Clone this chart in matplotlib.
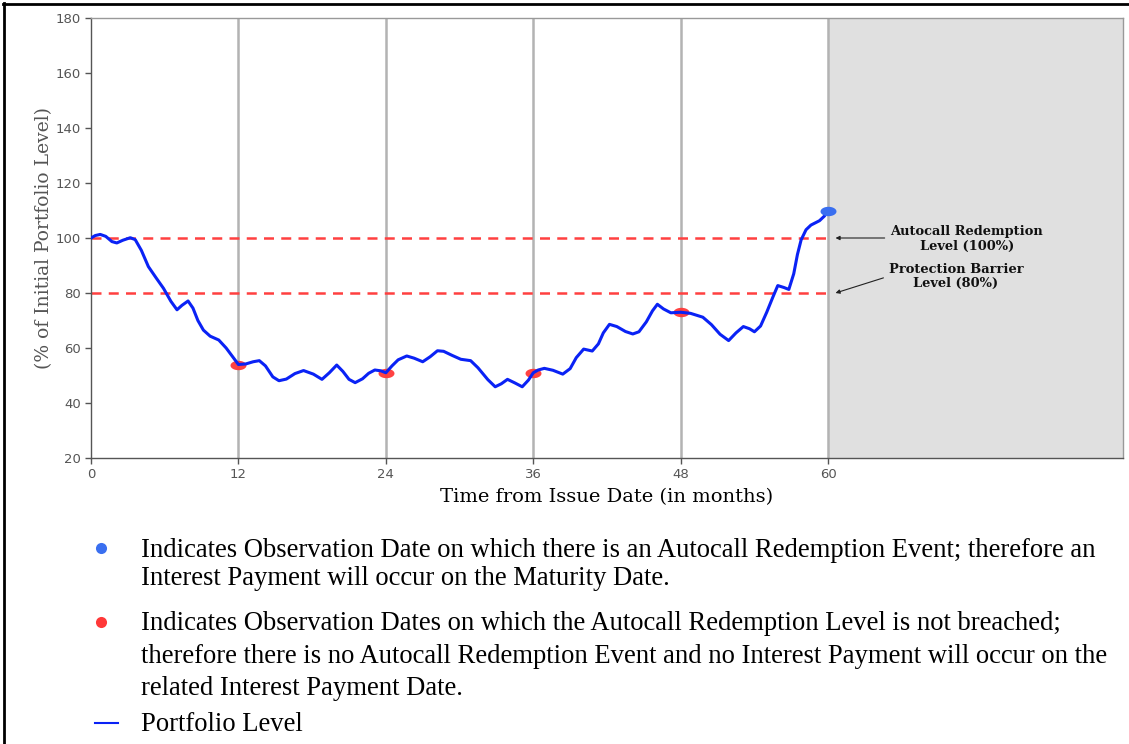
import matplotlib
matplotlib.use("Agg")
import matplotlib.pyplot as plt
import numpy as np
from matplotlib.path import Path
from matplotlib.lines import Line2D

# ---------------- data ----------------
months = [0, 0.35, 0.75, 1.2, 1.7, 2.1, 2.6, 3.2, 3.6, 4.1, 4.67, 5.3, 5.9, 6.5, 7.0, 7.4,
          7.9, 8.3, 8.7, 9.15, 9.7, 10.4, 11.0, 11.5, 12.0, 12.6, 13.2, 13.7, 14.2, 14.8,
          15.3, 15.9, 16.6, 17.3, 18.1, 18.8, 19.4, 20.0, 20.5, 21.0, 21.5, 22.1, 22.6,
          23.1, 23.6, 24.0, 24.5, 25.0, 25.7, 26.3, 27.0, 27.6, 28.2, 28.7, 29.4, 30.1,
          30.9, 31.5, 32.3, 32.9, 33.4, 33.9, 34.5, 35.1, 35.6, 36.0, 36.4, 36.9, 37.6,
          38.4, 39.0, 39.5, 40.1, 40.8, 41.3, 41.7, 42.2, 42.8, 43.5, 44.1, 44.6, 45.2,
          45.7, 46.1, 46.6, 47.2, 48.0, 48.8, 49.8, 50.5, 51.2, 51.9, 52.5, 53.1, 53.6,
          54.0, 54.5, 55.0, 55.5, 55.9, 56.4, 56.8, 57.2, 57.5, 57.8, 58.2, 58.6, 59.3,
          59.7, 60.0]
portfolio = [100, 100.9, 101.3, 100.6, 98.7, 98.2, 99.2, 100.1, 99.4, 95.5, 89.6, 85.5, 81.7,
             77, 73.9, 75.5, 77.1, 74.5, 70, 66.5, 64.3, 62.9, 60, 57, 54, 54.2, 55, 55.4,
             53.5, 49.5, 48.1, 48.7, 50.7, 51.8, 50.5, 48.6, 51, 53.8, 51.5, 48.6, 47.4,
             48.8, 50.8, 52, 51.7, 51, 53.5, 55.7, 57.1, 56.3, 55, 56.8, 59, 58.8, 57.3,
             55.9, 55.4, 52.8, 48.5, 45.9, 47, 48.6, 47.3, 45.9, 48.3, 51, 52, 52.6, 51.9,
             50.5, 52.5, 56.5, 59.6, 58.9, 61.5, 65.5, 68.6, 67.8, 66, 65.1, 65.9, 69.5,
             73.5, 75.9, 74.2, 72.8, 73, 72.6, 71.2, 68.5, 65, 62.7, 65.5, 67.8, 67, 65.9,
             68, 73, 78.5, 82.7, 82, 81.3, 87, 94, 99.3, 103, 104.7, 106.3, 108, 110]

obs_months = [12, 24, 36, 48]
obs_values = [54, 51, 51, 73]
autocall_month = [60]
autocall_value = [110]

autocall_level = 100
barrier_level = 80
maturity = 60
x_max = 84
x_ticks = [0, 12, 24, 36, 48, 60]
y_ticks = [20, 40, 60, 80, 100, 120, 140, 160, 180]

legend_lines = [
    "Indicates Observation Date on which there is an Autocall Redemption Event; therefore an",
    "Interest Payment will occur on the Maturity Date.",
    "Indicates Observation Dates on which the Autocall Redemption Level is not breached;",
    "therefore there is no Autocall Redemption Event and no Interest Payment will occur on the",
    "related Interest Payment Date.",
    "Portfolio Level",
]

# ---------------- figure ----------------
W, H = 1129, 744
fig = plt.figure(figsize=(W / 100, H / 100), dpi=100)
ax = fig.add_axes([91 / W, 1 - 458 / H, (1123 - 91) / W, (458 - 18) / H])

ax.set_xlim(0, x_max)
ax.set_ylim(20, 180)

# shaded post-maturity region
ax.axvspan(maturity, x_max, color="#e0e0e0", zorder=0)

# observation verticals
for m in x_ticks[1:]:
    ax.axvline(m, color="#b3b3b3", lw=1.8, zorder=1)

# level lines
for lvl in (autocall_level, barrier_level):
    ax.plot([0, maturity], [lvl, lvl], color="#ff4040", lw=1.8, dashes=(4, 2.9), zorder=2)

# ellipse marker
t = np.linspace(0, 2 * np.pi, 60)
ell = Path(np.column_stack([1.7 * np.cos(t), np.sin(t)]), closed=True)

ax.plot(obs_months, obs_values, ls="none", marker=ell, ms=11.5, color="#ff3838",
        mec="none", alpha=0.95, zorder=3)
ax.plot(months, portfolio, color="#0a22f5", lw=2.2, zorder=4,
        solid_capstyle="round", solid_joinstyle="round")
ax.plot(autocall_month, autocall_value, ls="none", marker=ell, ms=11.5, color="#3a6ff0",
        mec="none", zorder=5)

ax.set_xticks(x_ticks)
ax.set_yticks(y_ticks)
ax.tick_params(axis="both", colors="#555555", labelsize=9.5, length=4, width=1,
               labelcolor="#555555", pad=3)
for s in ("left", "bottom"):
    ax.spines[s].set_color("#555555")
for s in ("top", "right"):
    ax.spines[s].set_color("#999999")
for s in ax.spines.values():
    s.set_linewidth(1)

ax.set_ylabel("(% of Initial Portfolio Level)", family="DejaVu Serif", fontsize=13.5,
              color="#555555", labelpad=2)
ax.set_xlabel("Time from Issue Date (in months)", family="DejaVu Serif", fontsize=14,
              color="black", labelpad=5)

# annotations
ann_kw = dict(ha="center", va="center", family="DejaVu Serif", fontweight="bold",
              fontsize=9.4, linespacing=1.15, color="#111111")
ax.text(71.3, 99.6, "Autocall Redemption\nLevel (100%)", **ann_kw)
ax.text(70.4, 86.0, "Protection Barrier\nLevel (80%)", **ann_kw)
arr = dict(arrowstyle="-|>", color="#222222", lw=0.8, mutation_scale=6, shrinkA=0, shrinkB=0)
ax.annotate("", xy=(60.6, autocall_level), xytext=(64.6, autocall_level), arrowprops=arr)
ax.annotate("", xy=(60.6, barrier_level), xytext=(64.5, 85.5), arrowprops=arr)

# legend below
def fy(py):
    return 1 - py / H

baselines = [557, 585, 630, 663, 695, 731]
for txt, b in zip(legend_lines, baselines):
    fig.text(141 / W, fy(b), txt, family="Liberation Serif", fontsize=19.2,
             va="baseline", ha="left")
fig.add_artist(Line2D([101 / W], [fy(548)], marker="o", ms=8, color="#3a6ff0", mec="none",
                      transform=fig.transFigure))
fig.add_artist(Line2D([101 / W], [fy(622)], marker="o", ms=8, color="#ff3838", mec="none",
                      transform=fig.transFigure))
fig.add_artist(Line2D([95 / W, 118 / W], [fy(723), fy(723)], color="#0a22f5", lw=1.5,
                      transform=fig.transFigure))

# outer frame (top and left)
fig.add_artist(Line2D([3 / W, 1], [fy(3.5), fy(3.5)], color="black", lw=2,
                      transform=fig.transFigure))
fig.add_artist(Line2D([3.5 / W, 3.5 / W], [0, fy(3)], color="black", lw=2,
                      transform=fig.transFigure))

fig.savefig("out.png", dpi=100)
